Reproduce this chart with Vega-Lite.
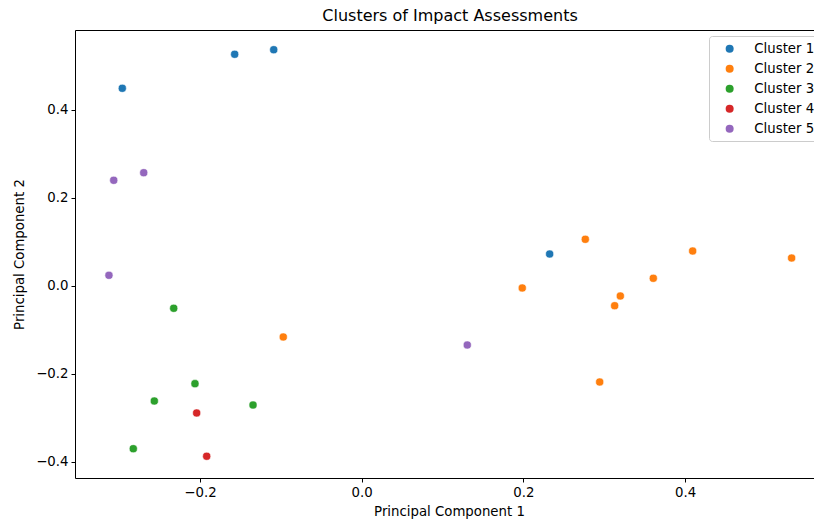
{
  "$schema": "https://vega.github.io/schema/vega-lite/v6.json",
  "autosize": {"type": "none"},
  "width": 740,
  "height": 448,
  "padding": {"left": 75, "top": 30, "right": 0, "bottom": 42},
  "background": "white",
  "view": {"stroke": "black", "strokeWidth": 1},
  "config": {
    "font": "DejaVu Sans",
    "axis": {
      "grid": false,
      "domain": false,
      "tickColor": "black",
      "tickSize": 4,
      "labelColor": "black",
      "labelFontSize": 13.3,
      "titleColor": "black",
      "titleFontSize": 13.3,
      "titleFontWeight": "normal",
      "labelFont": "DejaVu Sans",
      "titleFont": "DejaVu Sans"
    },
    "legend": {
      "labelFont": "DejaVu Sans",
      "labelFontSize": 13.3,
      "labelColor": "black"
    }
  },
  "title": {
    "text": "Clusters of Impact Assessments",
    "font": "DejaVu Sans",
    "fontSize": 16,
    "fontWeight": "normal",
    "color": "black",
    "offset": 6,
    "dx": 5
  },
  "data": {
    "values": [
      {"pc1": -0.2961, "pc2": 0.4493, "cluster": "Cluster 1"},
      {"pc1": -0.1571, "pc2": 0.5266, "cluster": "Cluster 1"},
      {"pc1": -0.1088, "pc2": 0.5370, "cluster": "Cluster 1"},
      {"pc1": 0.2325, "pc2": 0.0727, "cluster": "Cluster 1"},
      {"pc1": -0.0970, "pc2": -0.1159, "cluster": "Cluster 2"},
      {"pc1": 0.1986, "pc2": -0.0045, "cluster": "Cluster 2"},
      {"pc1": 0.2766, "pc2": 0.1061, "cluster": "Cluster 2"},
      {"pc1": 0.2944, "pc2": -0.2182, "cluster": "Cluster 2"},
      {"pc1": 0.3129, "pc2": -0.0448, "cluster": "Cluster 2"},
      {"pc1": 0.3199, "pc2": -0.0227, "cluster": "Cluster 2"},
      {"pc1": 0.3607, "pc2": 0.0175, "cluster": "Cluster 2"},
      {"pc1": 0.4094, "pc2": 0.0795, "cluster": "Cluster 2"},
      {"pc1": 0.5318, "pc2": 0.0636, "cluster": "Cluster 2"},
      {"pc1": -0.2325, "pc2": -0.0507, "cluster": "Cluster 3"},
      {"pc1": -0.2062, "pc2": -0.2220, "cluster": "Cluster 3"},
      {"pc1": -0.2565, "pc2": -0.2614, "cluster": "Cluster 3"},
      {"pc1": -0.1344, "pc2": -0.2705, "cluster": "Cluster 3"},
      {"pc1": -0.2825, "pc2": -0.3698, "cluster": "Cluster 3"},
      {"pc1": -0.2041, "pc2": -0.2886, "cluster": "Cluster 4"},
      {"pc1": -0.1917, "pc2": -0.3870, "cluster": "Cluster 4"},
      {"pc1": -0.3067, "pc2": 0.2402, "cluster": "Cluster 5"},
      {"pc1": -0.2696, "pc2": 0.2575, "cluster": "Cluster 5"},
      {"pc1": -0.3126, "pc2": 0.0243, "cluster": "Cluster 5"},
      {"pc1": 0.1306, "pc2": -0.1341, "cluster": "Cluster 5"}
    ]
  },
  "mark": {"type": "circle", "size": 66, "opacity": 1, "stroke": "white", "strokeWidth": 0.6},
  "encoding": {
    "x": {
      "field": "pc1",
      "type": "quantitative",
      "title": "Principal Component 1",
      "scale": {"domain": [-0.3546, 0.5607], "nice": false, "zero": false},
      "axis": {
        "values": [-0.2, 0, 0.2, 0.4],
        "format": ".1f",
        "labelExpr": "replace(datum.label, '-', '\u2212')",
        "titleX": 374,
        "titlePadding": 6,
        "labelPadding": 3
      }
    },
    "y": {
      "field": "pc2",
      "type": "quantitative",
      "title": "Principal Component 2",
      "scale": {"domain": [-0.4364, 0.5818], "nice": false, "zero": false},
      "axis": {
        "values": [-0.4, -0.2, 0, 0.2, 0.4],
        "format": ".1f",
        "labelExpr": "replace(datum.label, '-', '\u2212')",
        "titlePadding": 9,
        "labelPadding": 3
      }
    },
    "color": {
      "field": "cluster",
      "type": "nominal",
      "title": null,
      "scale": {
        "domain": ["Cluster 1", "Cluster 2", "Cluster 3", "Cluster 4", "Cluster 5"],
        "range": ["#1f77b4", "#ff7f0e", "#2ca02c", "#d62728", "#9467bd"]
      },
      "legend": {
        "orient": "none",
        "legendX": 634,
        "legendY": 6,
        "padding": 6,
        "fillColor": "white",
        "strokeColor": "#cccccc",
        "cornerRadius": 3,
        "symbolType": "circle",
        "symbolSize": 64,
        "symbolStrokeWidth": 0,
        "symbolOffset": 8,
        "labelOffset": 18,
        "rowPadding": 6
      }
    }
  }
}
